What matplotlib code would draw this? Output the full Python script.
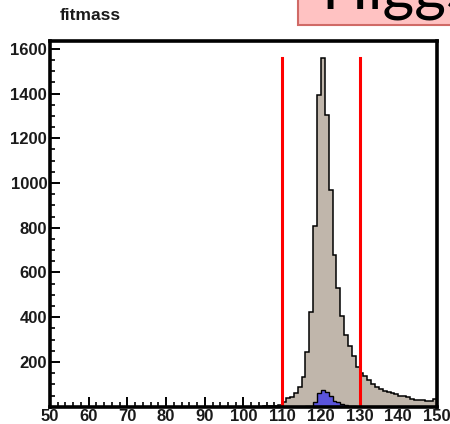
import numpy as np
import matplotlib
matplotlib.use("Agg")
import matplotlib.pyplot as plt
from matplotlib.patches import Rectangle
from matplotlib.ticker import MultipleLocator, FixedLocator

# ---- data ----
first_bin = 104          # lower edge of first listed bin (bins below are empty)
bin_width = 1
tan_counts = [0, 1, 2, 4, 3, 6, 20, 37, 45, 60, 89, 134, 246, 425, 808, 1394,   # 104..119
              1558, 1305, 969, 678, 529, 406, 321, 271, 227, 179,                # 120..129
              152, 137, 119, 101, 87, 78, 72, 65, 60, 55,                        # 130..139
              47, 46, 45, 36, 32, 30, 28, 27, 25, 33]                            # 140..149
blue_first_bin = 115
blue_counts = [0, 2, 5, 22, 63, 75, 67, 48, 27, 20, 12, 7, 4, 2, 0]             # 115..129
cut_lines = [110, 130]
cut_height = 1560
title = "fitmass"
x_ticks = [50, 60, 70, 80, 90, 100, 110, 120, 130, 140, 150]
y_ticks = [200, 400, 600, 800, 1000, 1200, 1400, 1600]
banner_text = "Higgs"

# ---- figure ----
W, H = 450, 424
fig = plt.figure(figsize=(W / 100, H / 100), dpi=100)
fig.patch.set_facecolor("white")
ax = fig.add_axes([50 / W, 1 - 406.7 / H, (437 - 50) / W, (406.7 - 41) / H])

tan_edges = first_bin + bin_width * np.arange(len(tan_counts) + 1)
blue_edges = blue_first_bin + bin_width * np.arange(len(blue_counts) + 1)

ax.stairs(tan_counts, tan_edges, fill=True, facecolor="#c0b6ab", edgecolor="none", zorder=2)
ax.stairs(tan_counts, tan_edges, fill=False, color="black", linewidth=1.1, zorder=3)
ax.stairs(blue_counts, blue_edges, fill=True, facecolor="#5a54dc", edgecolor="none", zorder=4)
ax.stairs(blue_counts, blue_edges, fill=False, color="black", linewidth=1.0, zorder=5)

for xc in cut_lines:
    ax.plot([xc, xc], [0, cut_height], color="red", linewidth=2.2, zorder=6)

ax.set_xlim(50, 150)
ax.set_ylim(0, 1635)

ax.xaxis.set_major_locator(FixedLocator(x_ticks))
ax.xaxis.set_minor_locator(MultipleLocator(2))
ax.yaxis.set_major_locator(FixedLocator(y_ticks))
ax.yaxis.set_minor_locator(MultipleLocator(50))
ax.set_xticklabels([str(t) for t in x_ticks])
ax.set_yticklabels([str(t) for t in y_ticks])

ax.tick_params(axis="both", which="major", direction="in", length=7, width=1.4,
               labelsize=12, top=False, right=False)
ax.tick_params(axis="both", which="minor", direction="in", length=3.5, width=1.2,
               top=False, right=False)
ax.tick_params(axis="y", which="major", pad=2)
ax.tick_params(axis="x", which="major", pad=2)
for lab in ax.get_xticklabels() + ax.get_yticklabels():
    lab.set_fontfamily("Liberation Sans")
    lab.set_fontweight("bold")
    lab.set_color("#1a1a1a")

for s in ax.spines.values():
    s.set_linewidth(2.6)
    s.set_color("black")
    s.set_zorder(10)

fig.text(60 / W, 1 - 16 / H, title, fontsize=12.5, fontweight="bold",
         family="Liberation Sans", va="center", ha="left", color="#1a1a1a")

# banner box (cropped at top/right in the reference)
fig.patches.append(Rectangle((298 / W, 1 - 25 / H), 0.5, 0.2, transform=fig.transFigure,
                             facecolor="#ffc2c2", edgecolor="#d06a66", linewidth=1.5,
                             figure=fig, zorder=1))
fig.text(321 / W, 1 - 9 / H, banner_text, fontsize=44, family="Lato",
         va="baseline", ha="left", color="black")

fig.savefig("out.png", dpi=100)
